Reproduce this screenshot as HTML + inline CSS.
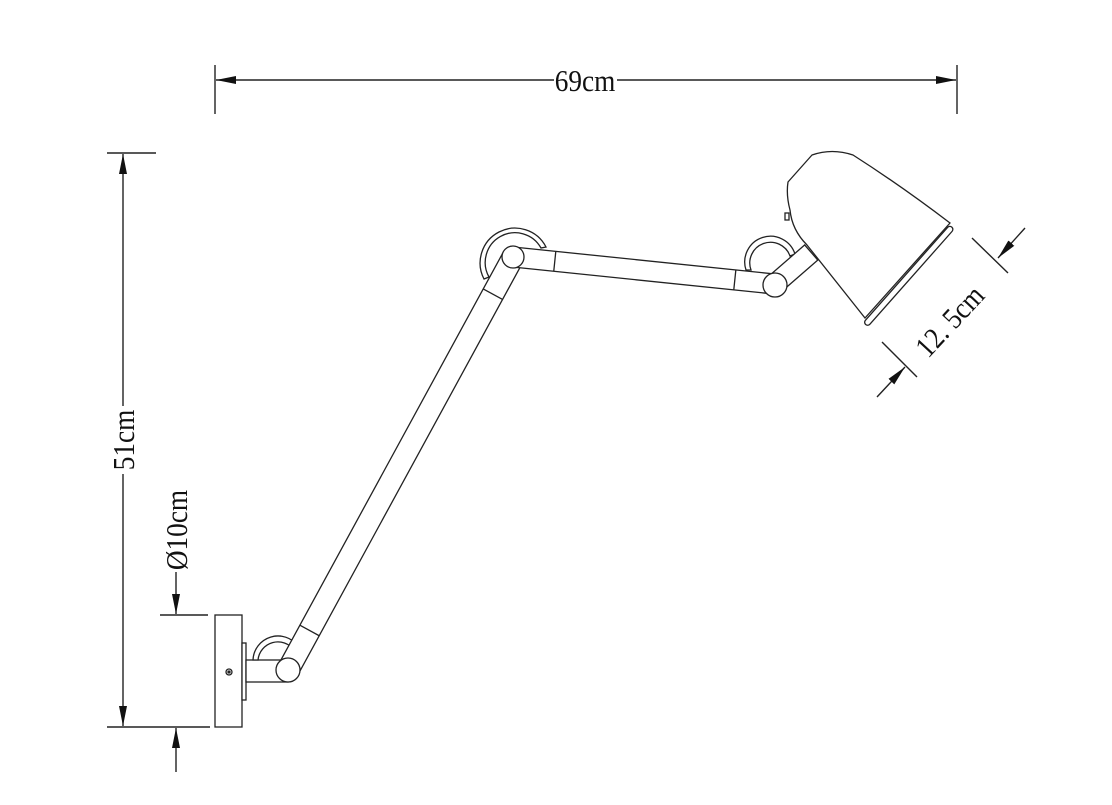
<!DOCTYPE html>
<html><head><meta charset="utf-8"><style>
html,body{margin:0;padding:0;background:#fff;}
svg{display:block;}
text{font-family:"Liberation Serif",serif;fill:#111;}
</style></head><body>
<svg width="1112" height="805" viewBox="0 0 1112 805" xmlns="http://www.w3.org/2000/svg">
<defs>
<marker id="ar" viewBox="0 0 20 8" refX="20" refY="4" markerWidth="20" markerHeight="8" markerUnits="userSpaceOnUse" orient="auto">
<path d="M0,0 L20,4 L0,8 Z" fill="#111"/>
</marker>
</defs>
<g stroke="#222" stroke-width="1.4" fill="none">
<line x1="215" y1="65" x2="215" y2="114"/>
<line x1="957" y1="65" x2="957" y2="114"/>
<line x1="554" y1="80" x2="216" y2="80" marker-end="url(#ar)"/>
<line x1="617" y1="80" x2="956" y2="80" marker-end="url(#ar)"/>
<line x1="107" y1="153" x2="156" y2="153"/>
<line x1="107" y1="727" x2="210" y2="727"/>
<line x1="123" y1="406" x2="123" y2="154" marker-end="url(#ar)"/>
<line x1="123" y1="474" x2="123" y2="726" marker-end="url(#ar)"/>
<line x1="160" y1="615" x2="208" y2="615"/>
<line x1="176" y1="572" x2="176" y2="614" marker-end="url(#ar)"/>
<line x1="176" y1="772" x2="176" y2="728" marker-end="url(#ar)"/>
<line x1="972" y1="238" x2="1008" y2="273"/>
<line x1="882" y1="342" x2="917" y2="377"/>
<line x1="1025" y1="228" x2="998" y2="258" marker-end="url(#ar)"/>
<line x1="877" y1="397" x2="905" y2="367" marker-end="url(#ar)"/>
</g>
<text font-size="31" text-anchor="middle" transform="translate(585 91) scale(0.88 1)">69cm</text>
<text font-size="31" text-anchor="middle" transform="translate(134 440) rotate(-90) scale(0.88 1)">51cm</text>
<text font-size="31" text-anchor="middle" transform="translate(187 530) rotate(-90) scale(0.88 1)">Ø10cm</text>
<text font-size="30" text-anchor="middle" transform="translate(957 328) rotate(-47) scale(0.88 1)">12. 5cm</text>

<g stroke="#222" stroke-width="1.3" fill="#fff">
<rect x="215" y="615" width="27" height="112"/>
<rect x="242" y="643" width="4" height="57"/>
<circle cx="229" cy="672" r="3"/>
<circle cx="229" cy="672" r="1" fill="#222"/>
<rect x="246" y="660" width="42" height="22"/>
<path d="M253,660 A25,25 0 0 1 298,646 L294,650 A20,20 0 0 0 258,660 Z"/>
<g transform="translate(288 670) rotate(-61.4)">
<rect x="0" y="-11" width="470" height="22"/>
<line x1="45" y1="-11" x2="45" y2="11"/>
<line x1="428" y1="-11" x2="428" y2="11"/>
</g>
<circle cx="288" cy="670" r="12"/>
<path d="M484,279 A34,34 0 1 1 546,247 L541,248 A29,29 0 1 0 489,277 Z"/>
<g transform="translate(513 257) rotate(5.9)">
<rect x="0" y="-10" width="263" height="20"/>
<line x1="42" y1="-10" x2="42" y2="10"/>
<line x1="223" y1="-10" x2="223" y2="10"/>
</g>
<circle cx="513" cy="257" r="11"/>
<path d="M746,270 A24,24 0 0 1 795,254 L790,256 A19,19 0 0 0 751,270 Z"/>
<g transform="translate(775 284) rotate(-41)">
<rect x="0" y="-10" width="48" height="20"/>
</g>
<circle cx="775" cy="285" r="12"/>
<path d="M812,155 Q832,148 853,155 Q900,185 950,223 L865,318 L807,245 Q792,230 790,210 Q786,195 788,182 Z"/>
<rect x="785" y="213" width="4" height="7"/>
<g transform="translate(867 323) rotate(-48.5)">
<rect x="-2" y="-3" width="130" height="6" rx="3"/>
</g>
</g>
</svg>
</body></html>
